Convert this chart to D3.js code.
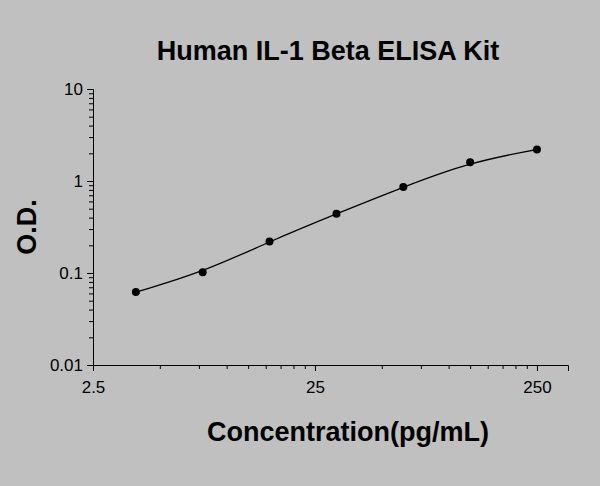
<!DOCTYPE html>
<html><head><meta charset="utf-8">
<script src="https://cdn.jsdelivr.net/npm/d3@7"></script>
<style>body{margin:0;background:#c0c0c0;}svg{display:block;font-family:Arial,"Liberation Sans",sans-serif;}</style>
</head><body>
<script>
const title = "Human IL-1 Beta ELISA Kit";
const xLabel = "Concentration(pg/mL)";
const yLabel = "O.D.";
const conc = [3.9, 7.8, 15.6, 31.25, 62.5, 125, 250];
const od = [0.062, 0.102, 0.22, 0.44, 0.86, 1.6, 2.2];
const xTicks = [2.5, 25, 250];
const yTicks = [0.01, 0.1, 1, 10];

const W = 600, H = 486;
const svg = d3.select("body").append("svg").attr("width", W).attr("height", H);
svg.append("rect").attr("width", W).attr("height", H).attr("fill", "#c0c0c0");
const x = d3.scaleLog().domain([2.5, 345]).range([93, 568]);
const y = d3.scaleLog().domain([0.01, 10]).range([365, 89]);

const xMinor = [];
for (let d = 2.5; d <= 250; d *= 10) for (let k = 2; k <= 9; k++) if (d * k <= 345) xMinor.push(d * k);
const yMinor = [];
for (let d = 0.01; d < 10; d *= 10) for (let k = 2; k <= 9; k++) yMinor.push(d * k);

svg.append("g").attr("transform", `translate(0,${y(0.01)})`)
  .call(d3.axisBottom(x).tickValues(xTicks).tickFormat(d => d).tickSize(6).tickPadding(10));
svg.append("g").attr("transform", `translate(0,${y(0.01)})`)
  .call(d3.axisBottom(x).tickValues(xMinor).tickFormat("").tickSize(4)).select(".domain").remove();
svg.append("g").attr("transform", `translate(${x(2.5)},0)`)
  .call(d3.axisLeft(y).tickValues(yTicks).tickFormat(d => d).tickSize(6).tickPadding(4));
svg.append("g").attr("transform", `translate(${x(2.5)},0)`)
  .call(d3.axisLeft(y).tickValues(yMinor).tickFormat("").tickSize(4)).select(".domain").remove();
svg.selectAll(".domain").attr("stroke", "#000");
svg.selectAll(".tick line").attr("stroke", "#000");
svg.selectAll(".tick text").attr("fill", "#000").attr("font-size", 17);

const line = d3.line().x(d => x(d[0])).y(d => y(d[1])).curve(d3.curveBasis);
svg.append("path").datum(conc.map((c, i) => [c, od[i]])).attr("d", line)
  .attr("fill", "none").attr("stroke", "#000").attr("stroke-width", 1.3);
svg.selectAll("circle.pt").data(conc).enter().append("circle")
  .attr("cx", d => x(d)).attr("cy", (d, i) => y(od[i])).attr("r", 4).attr("fill", "#000");

svg.append("text").attr("x", 328).attr("y", 60).attr("text-anchor", "middle")
  .attr("font-size", 27).attr("font-weight", "bold").text(title);
svg.append("text").attr("x", 348).attr("y", 441).attr("text-anchor", "middle")
  .attr("font-size", 27).attr("font-weight", "bold").text(xLabel);
svg.append("text").attr("transform", "translate(36,227) rotate(-90)").attr("text-anchor", "middle")
  .attr("font-size", 27).attr("font-weight", "bold").text(yLabel);
</script>
</body></html>
